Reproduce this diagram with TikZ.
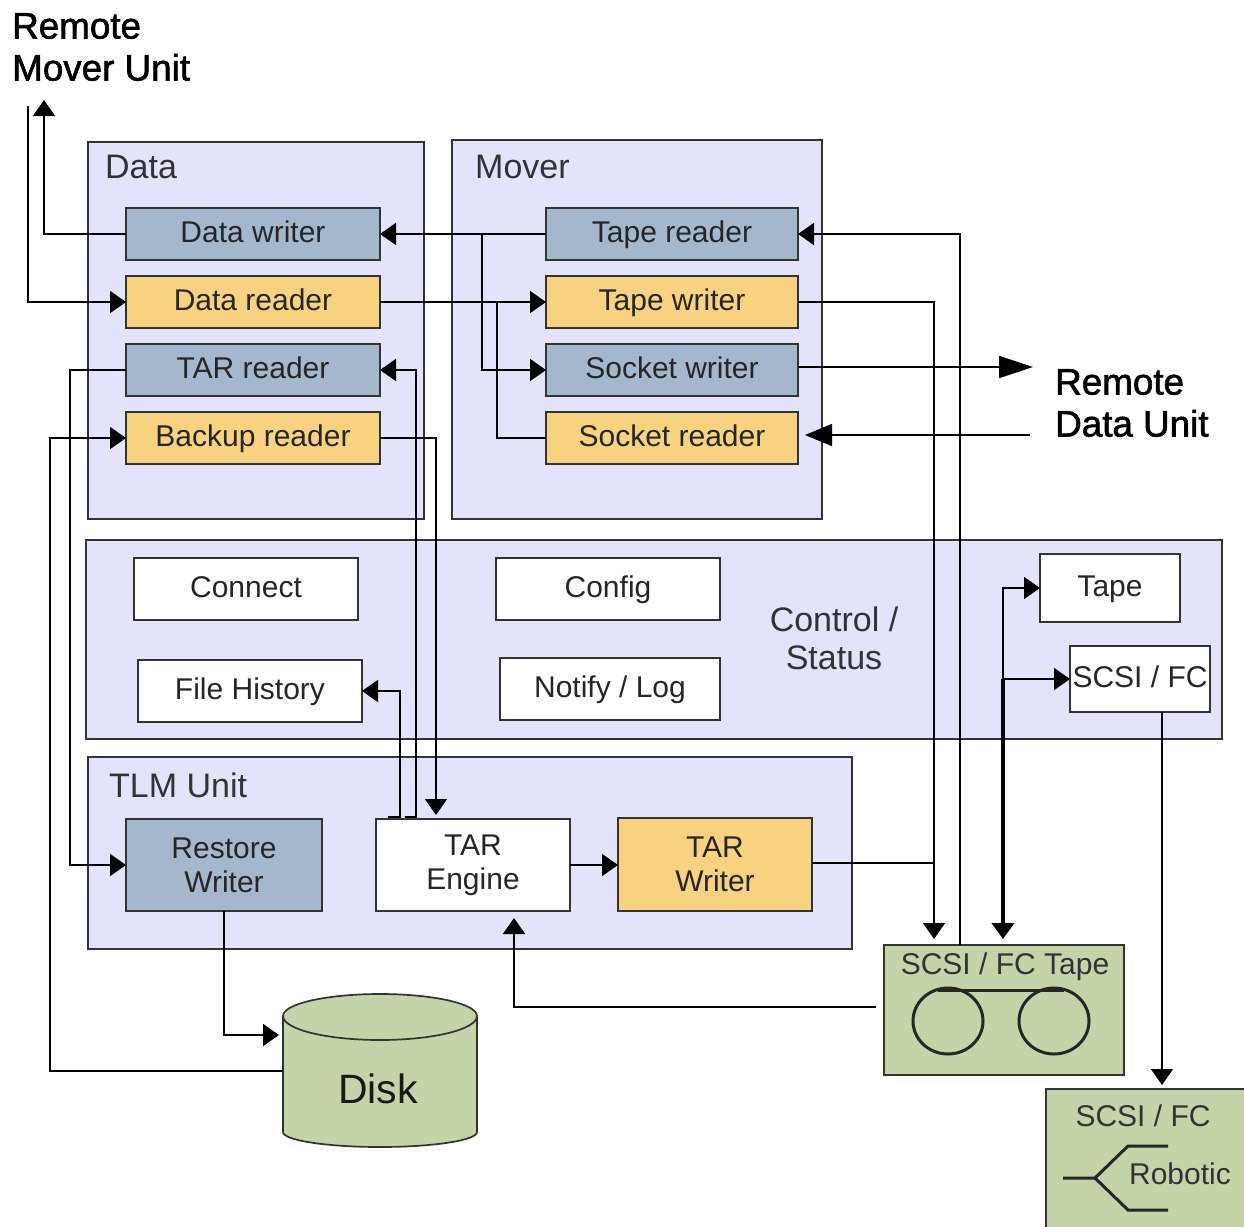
\documentclass[tikz,border=0pt]{standalone}
\usepackage{fontspec}
\setmainfont{Liberation Sans}
\newfontfamily\heavyfont[FakeBold=1.6]{Liberation Sans}
\usetikzlibrary{arrows.meta,positioning}
\definecolor{paneblue}{HTML}{E3E3FC}
\definecolor{steel}{HTML}{A3B8CD}
\definecolor{sand}{HTML}{F8D37F}
\definecolor{sage}{HTML}{C5D3A8}

\begin{document}
\begin{tikzpicture}[x=1pt,y=-1pt]

\tikzset{>={Triangle[width=22pt,length=16pt]}}
\tikzset{pane/.style={draw=black!80,fill=paneblue,line width=1.5pt,rectangle,anchor=north west,inner sep=0pt,outer sep=0pt}}
\tikzset{unit/.style={draw=black!80,line width=1.7pt,rectangle,anchor=north west,inner sep=0pt,outer sep=0pt,align=center,text=black!85,font=\fontsize{30}{34}\selectfont}}
\tikzset{oneline/.style={text height=21pt,text depth=4pt}}
\tikzset{readbox/.style={unit,fill=steel}}
\tikzset{writebox/.style={unit,fill=sand}}
\tikzset{plainbox/.style={unit,fill=white}}
\tikzset{drivebox/.style={draw=black!80,fill=sage,line width=1.5pt,rectangle,anchor=north west,inner sep=0pt,outer sep=0pt}}
\tikzset{caption/.style={text=black!80,inner sep=0pt,align=center,font=\fontsize{34}{38}\selectfont}}
\tikzset{drivetext/.style={text=black!80,inner sep=0pt,font=\fontsize{30}{33}\selectfont}}
\tikzset{remote/.style={anchor=north west,inner sep=0pt,align=left,font=\fontsize{36.8}{42}\heavyfont}}
\tikzset{symbol/.style={line width=3pt,black!85}}
\tikzset{flow/.style={line width=1.7pt,black}}

\clip (0,0) rectangle (1244,1226);
\path[fill=white] (0,0) rectangle (1244,1226);

%===================================================================
\node at (88,142) [pane,name=datapane,minimum width=336pt,minimum height=377pt] {};
\node at (452,140) [pane,name=moverpane,minimum width=370pt,minimum height=379pt] {};
\node at (86,540) [pane,name=ctrlpane,minimum width=1136pt,minimum height=199pt] {};
\node at (88,757) [pane,name=tlmpane,minimum width=764pt,minimum height=192pt] {};

\node[caption,anchor=west] at (105,167) (datalbl) {Data};
\node[caption,anchor=west] at (475,167) (moverlbl) {Mover};
\node[caption] at (834,638) (ctrllbl) {Control /\\Status};
\node[caption,anchor=west] at (109,785) (tlmlbl) {TLM Unit};

%===================================================================
\node at (126,208) [readbox,oneline,name=dwriter,minimum width=254pt,minimum height=52pt] {Data writer};
\node at (126,276) [writebox,oneline,name=dreader,minimum width=254pt,minimum height=52pt] {Data reader};
\node at (126,344) [readbox,oneline,name=treader,minimum width=254pt,minimum height=52pt] {TAR reader};
\node at (126,412) [writebox,oneline,name=breader,minimum width=254pt,minimum height=52pt] {Backup reader};

\node at (546,208) [readbox,oneline,name=tpreader,minimum width=252pt,minimum height=52pt] {Tape reader};
\node at (546,276) [writebox,oneline,name=tpwriter,minimum width=252pt,minimum height=52pt] {Tape writer};
\node at (546,344) [readbox,oneline,name=swriter,minimum width=252pt,minimum height=52pt] {Socket writer};
\node at (546,412) [writebox,oneline,name=sreader,minimum width=252pt,minimum height=52pt] {Socket reader};

\node at (134,558) [plainbox,oneline,name=connect,minimum width=224pt,minimum height=62pt] {Connect};
\node at (496,558) [plainbox,oneline,name=config,minimum width=224pt,minimum height=62pt] {Config};
\node at (138,660) [plainbox,oneline,name=fhistory,minimum width=224pt,minimum height=62pt] {File History};
\node at (500,658) [plainbox,oneline,name=notify,minimum width=220pt,minimum height=62pt] {Notify / Log};
\node at (1040,554) [plainbox,oneline,name=tapebox,minimum width=140pt,minimum height=68pt] {Tape};
\node at (1070,646) [plainbox,oneline,name=scsibox,minimum width=140pt,minimum height=66pt] {SCSI / FC};

\node at (126,819) [readbox,name=rwriter,minimum width=196pt,minimum height=92pt] {Restore\\Writer};
\node at (376,819) [plainbox,name=tengine,minimum width=194pt,minimum height=92pt] {TAR\\Engine};
\node at (618,818) [writebox,name=twriter,minimum width=194pt,minimum height=93pt] {TAR\\Writer};

%===================================================================
\node at (884,945) [drivebox,name=tapedrive,minimum width=240pt,minimum height=130pt] {};
\node[drivetext] at (1005,967) (tapedrivelbl) {SCSI / FC Tape};
\draw[symbol] (948,1021) ellipse (35 and 33);
\draw[symbol] (1054,1021) ellipse (35 and 33);
\draw[symbol] (938,990)--(1064,990);

\node at (1046,1089) [drivebox,name=robotdrive,minimum width=204pt,minimum height=145pt] {};
\node[drivetext] at (1143,1116) (robotlbl) {SCSI / FC};
\node[drivetext] at (1180,1174) (robotic) {Robotic};
\draw[symbol] (1063,1178)--(1095,1178)--(1128,1146)--(1168,1146);
\draw[symbol] (1095,1178)--(1128,1210)--(1168,1210);

\draw[draw=black!80,fill=sage,line width=1.7pt] (283,1016)--(283,1132) arc[start angle=180,end angle=0,x radius=97,y radius=15]--(477,1016) arc[start angle=0,end angle=-180,x radius=97,y radius=22]--cycle;
\draw[draw=black!80,line width=1.7pt] (283,1016) arc[start angle=180,end angle=0,x radius=97,y radius=24];
\node[inner sep=0pt,font=\fontsize{41}{44}\selectfont,text=black!90] at (378,1089) (disklbl) {Disk};

\node at (12,13) [remote,name=rmover] {Remote\\Mover Unit};
\node at (1055,369) [remote,name=rdata] {Remote\\Data Unit};

\coordinate (rmout) at (44,100);
\coordinate (rmin) at (28,106);
\coordinate (rdout) at (1033,367);
\coordinate (rdin) at (1030,435);
\coordinate (diskin) at (283,1035);
\coordinate (diskout) at (283,1071);
\coordinate (bus) at (1003,679);
\coordinate (tapefeed) at (876,1007);

%===================================================================
\draw[->,flow] (dwriter.west)-|(rmout);
\draw[->,flow] (rmin)|-(dreader.west);
\draw[->,flow] (tpreader.west)--(dwriter.east);
\draw[->,flow] ([xshift=-64pt]tpreader.west)|-(swriter.west);
\draw[->,flow] (dreader.east)--(tpwriter.west);
\draw[flow] (sreader.west)-|([xshift=-49pt]tpwriter.west);
\draw[->,flow,shorten >=6pt] (tpwriter.east)-|([xshift=-70pt]tapedrive.north);
\draw[->,flow] ([xshift=-44pt]tapedrive.north)|-(tpreader.east);
\draw[-{Triangle[width=22pt,length=34pt]},flow] (swriter.east|-rdout)--(rdout);
\draw[-{Triangle[width=22pt,length=27pt]},flow,shorten >=7pt] (rdin)--(rdin-|sreader.east);
\draw[->,flow] (treader.west)-|([xshift=-56pt]rwriter.west)--(rwriter.west);
\draw[->,flow] (diskout)-|([xshift=-76pt]breader.west)--(breader.west);
\draw[->,flow,shorten >=4pt] (breader.east)-|([xshift=-37pt]tengine.north);
\draw[->,flow] ([xshift=-68pt,yshift=2pt]tengine.north)--++(11,0)|-(treader.east);
\draw[->,flow] ([xshift=-85pt,yshift=2pt]tengine.north)--++(12,0)|-(fhistory.east);
\draw[->,flow] (tengine.east)--(twriter.west|-tengine.east);
\draw[flow] ([yshift=1.5pt]twriter.east)-|([xshift=-70pt,yshift=83pt]tapedrive.north);
\draw[->,flow,shorten >=7pt] (tapefeed)-|([xshift=41pt]tengine.south);
\draw[->,flow] (bus)|-(tapebox.west);
\draw[->,flow] (bus)--(scsibox.west);
\draw[->,line width=4pt,shorten >=6pt] (bus)--(bus|-tapedrive.north);
\draw[->,flow,shorten >=4pt] ([xshift=22pt]scsibox.south)--([xshift=22pt]scsibox.south|-robotdrive.north);
\draw[->,flow,shorten >=4pt] (rwriter.south)|-(diskin);

\end{tikzpicture}
\end{document}
